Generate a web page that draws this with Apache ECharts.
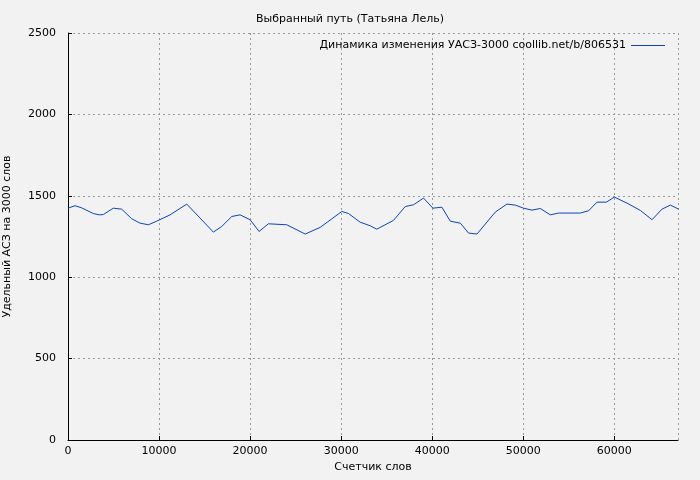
<!DOCTYPE html>
<html>
<head>
<meta charset="utf-8">
<script src="https://cdn.jsdelivr.net/npm/echarts@6/dist/echarts.min.js"></script>
<style>html,body{margin:0;padding:0;background:#f2f2f2;}#chart{width:700px;height:480px;}</style>
</head>
<body>
<div id="chart"></div>
<script>
// счетчик слов (x) и удельный АСЗ (y)
const wordCounts = [0, 770, 1500, 2780, 3440, 3880, 4980, 5900, 7000, 7910, 8830, 9740, 11210, 13040,
    14510, 15970, 16890, 17990, 18900, 20000, 20990, 22010, 24030, 26050, 27700, 30080, 30810,
    32090, 33190, 33920, 35750, 37040, 37950, 39050, 40080, 41070, 41990, 43090, 44000, 44920,
    46930, 48210, 49130, 50040, 50960, 51870, 52970, 53890, 56270, 57180, 58100, 59130, 60010,
    61400, 62870, 64150, 65240, 66160, 67070];
const asz = [1424, 1439, 1426, 1391, 1383, 1385, 1424, 1418, 1359, 1332, 1322, 1344, 1383, 1449,
    1363, 1277, 1312, 1373, 1383, 1353, 1281, 1328, 1322, 1265, 1306, 1404, 1391,
    1338, 1316, 1295, 1349, 1434, 1445, 1486, 1424, 1430, 1344, 1332, 1271, 1265,
    1400, 1449, 1443, 1424, 1412, 1422, 1383, 1394, 1394, 1408, 1461, 1461, 1492,
    1455, 1410, 1353, 1418, 1443, 1418];
const seriesName = 'Динамика изменения УАСЗ-3000 coollib.net/b/806531';

const font = 'DejaVu Sans';
const gridLine = {show: true, lineStyle: {color: '#999', type: [2, 3]}};
const axisLine = {lineStyle: {color: '#000', width: 1}};
const plain = v => String(v);

echarts.init(document.getElementById('chart')).setOption({
    backgroundColor: '#f2f2f2',
    textStyle: {fontFamily: font},
    title: {
        text: 'Выбранный путь (Татьяна Лель)',
        left: 'center', top: 9,
        textStyle: {fontSize: 11, fontWeight: 'normal', color: '#000', fontFamily: font}
    },
    legend: {
        right: 30, top: 35, itemWidth: 34, itemHeight: 1, align: 'right',
        icon: 'rect',
        textStyle: {fontSize: 11, color: '#000', fontFamily: font},
        data: [seriesName]
    },
    grid: {left: 68, right: 22, top: 33, bottom: 40, containLabel: false, outerBoundsMode: 'none'},
    xAxis: {
        type: 'value', min: 0, max: 67000, interval: 10000,
        name: 'Счетчик слов', nameLocation: 'middle', nameGap: 22,
        nameTextStyle: {fontSize: 11, color: '#000'},
        axisLine: axisLine, axisTick: {inside: true, length: 4, lineStyle: {color: '#000'}},
        axisLabel: {fontSize: 11, color: '#000', showMaxLabel: false, margin: 6, formatter: plain},
        splitLine: gridLine
    },
    yAxis: {
        type: 'value', min: 0, max: 2500, interval: 500,
        name: 'Удельный АСЗ на 3000 слов', nameLocation: 'middle', nameGap: 55,
        nameTextStyle: {fontSize: 11, color: '#000'},
        axisLine: Object.assign({show: true}, axisLine),
        axisTick: {show: true, inside: true, length: 4, lineStyle: {color: '#000'}},
        axisLabel: {fontSize: 11, color: '#000', margin: 12, formatter: plain},
        splitLine: gridLine
    },
    series: [{
        name: seriesName,
        type: 'line',
        data: wordCounts.map((x, i) => [x, asz[i]]),
        showSymbol: false,
        color: '#0a46b4',
        lineStyle: {width: 1},
        animation: false
    }]
});
</script>
</body>
</html>
